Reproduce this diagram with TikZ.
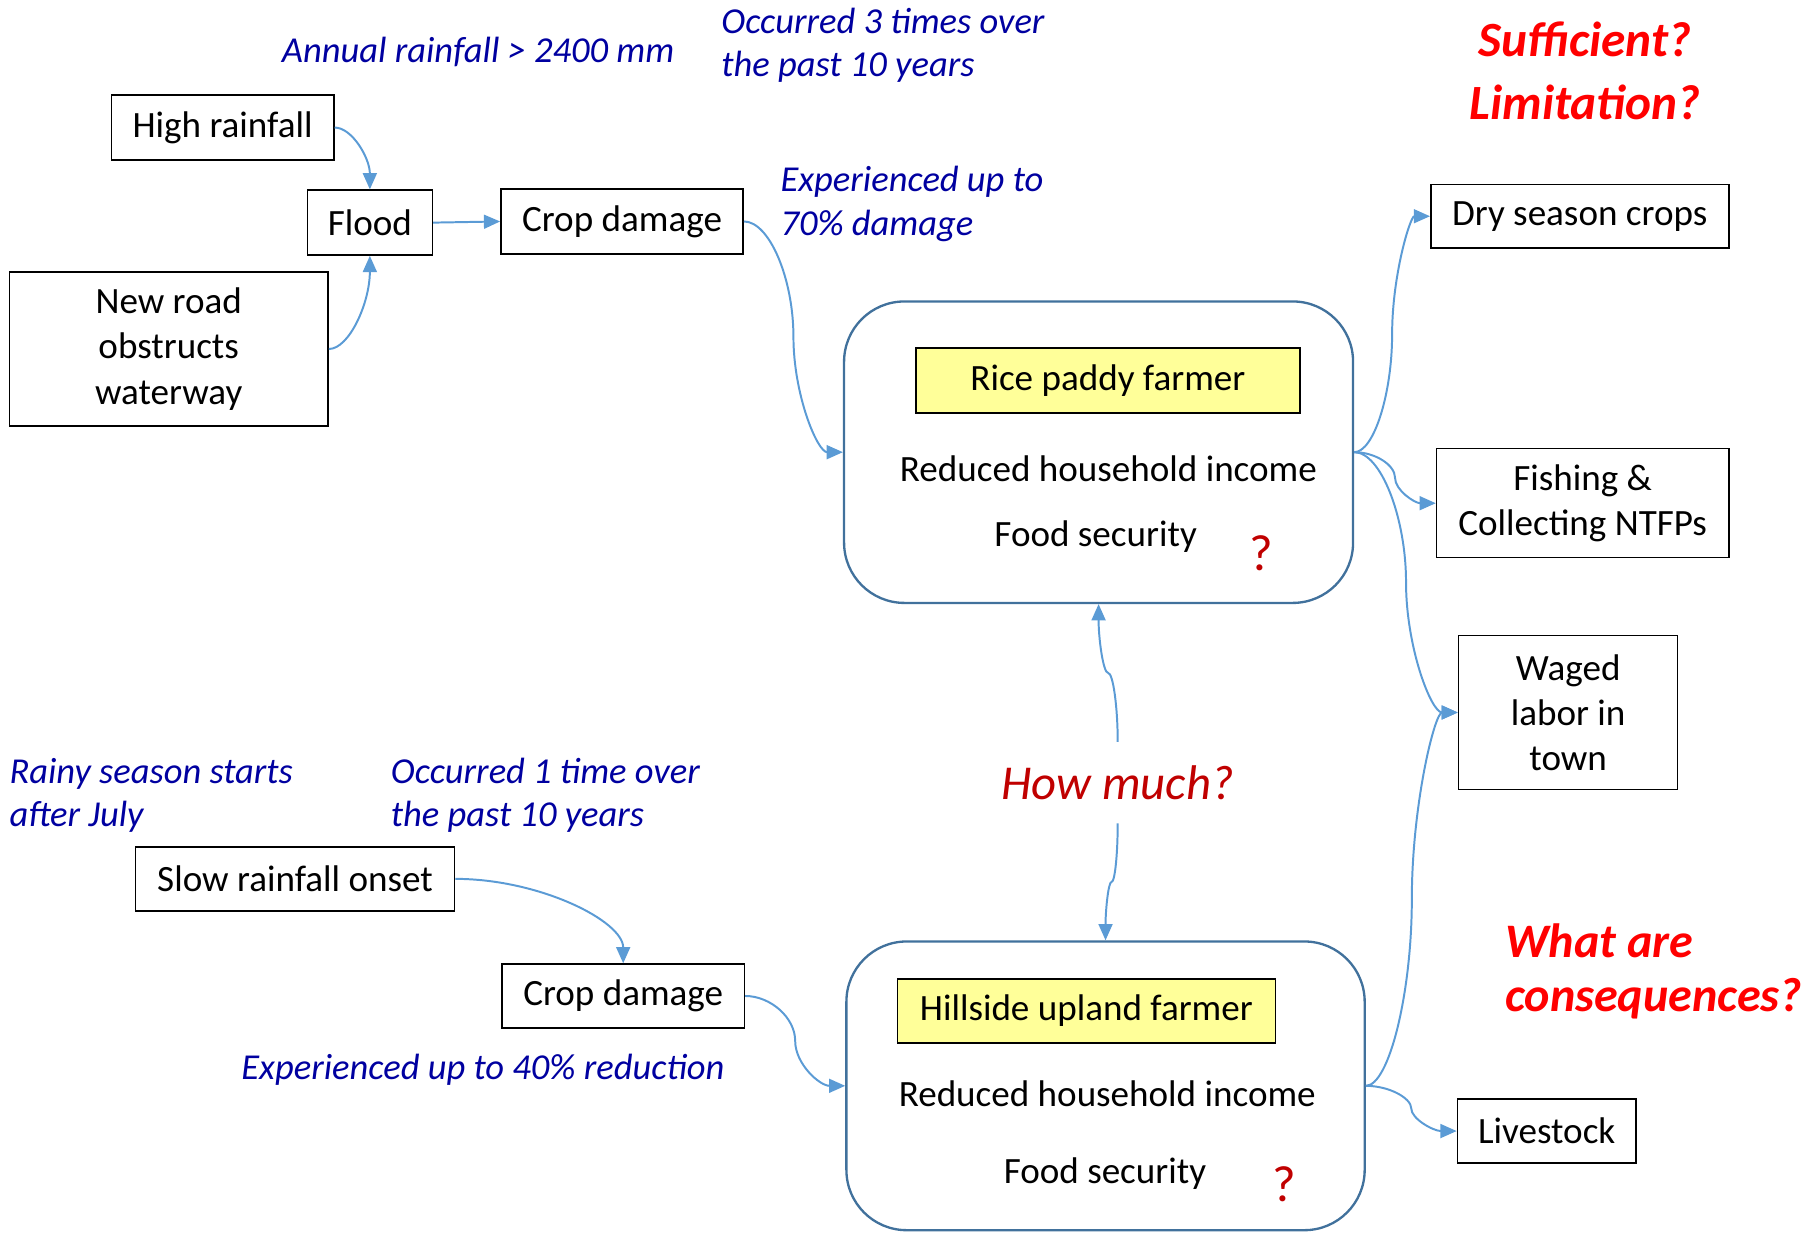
\documentclass[tikz,border=0pt]{standalone}
\usepackage{fontspec}
\setmainfont{Carlito}
\usetikzlibrary{arrows.meta,calc}
\definecolor{connc}{HTML}{5B9BD5}
\definecolor{framec}{HTML}{41719C}
\definecolor{notec}{HTML}{0000A0}
\definecolor{dredc}{HTML}{C00000}
\definecolor{bredc}{HTML}{FF0000}
\definecolor{ylwc}{HTML}{FFFF99}
\newcommand\fsbox{\fontsize{32}{39}\selectfont}
\newcommand\fsnote{\fontsize{31.5}{37.5}\selectfont\itshape}
\begin{document}
\begin{tikzpicture}[x=1pt,y=-1pt,
  box/.style={draw=black,line width=1.3pt,inner sep=0pt,align=center,font=\fsbox},
  ybox/.style={box,fill=ylwc},
  bigbox/.style={draw=framec,line width=2pt,rounded corners=52pt,inner sep=0pt},
  txt/.style={inner sep=0pt,font=\fsbox},
  note/.style={inner sep=0pt,align=left,anchor=west,text=notec,font=\fsnote},
  ask/.style={inner sep=0pt,text=bredc,font=\fontsize{42.5}{54}\selectfont\bfseries\itshape},
  qm/.style={inner sep=0pt,text=dredc,font=\fontsize{44}{48}\selectfont},
  conn/.style={draw=connc,line width=1.7pt,-{Triangle[length=14pt,width=12pt]}}
]
\useasboundingbox (0,0) rectangle (1568,1063);

% top-left chain
\node[box,minimum width=192pt,minimum height=56pt] (hr) at (192,110) {High rainfall};
\node[box,minimum width=108pt,minimum height=56pt] (flood) at (319,192) {Flood};
\node[box,minimum width=275pt,minimum height=133pt] (road) at (145.5,301) {New road\\obstructs\\waterway};
\node[box,minimum width=209pt,minimum height=56pt] (cd1) at (536.5,191) {Crop damage};

% notes top
\node[note] (n1) at (243,45) {Annual rainfall > 2400 mm};
\node[note] (n2) at (622,39) {Occurred 3 times over\\the past 10 years};
\node[note] (n3) at (673,176) {Experienced up to\\70\% damage};

% rice paddy farmer
\node[bigbox,minimum width=439pt,minimum height=260pt] (rice) at (947.5,390) {};
\node[ybox,minimum width=331pt,minimum height=56pt] (ry) at (955.5,328) {Rice paddy farmer};
\node[txt] (ri) at (956,404) {Reduced household income};
\node[txt] (rf) at (945,463) {Food security};
\node[qm] (rq) at (1088,477) {?};

% right boxes
\node[box,minimum width=257pt,minimum height=55pt] (dry) at (1362.5,186.5) {Dry season crops};
\node[box,minimum width=252pt,minimum height=94pt] (fish) at (1365,434) {Fishing \&\\Collecting NTFPs};
\node[box,minimum width=189pt,minimum height=133pt] (waged) at (1352.5,614.5) {Waged\\labor in\\town};
\node[box,minimum width=154pt,minimum height=55pt] (live) at (1334,975.5) {Livestock};

% red questions
\node[ask,align=center] (suf) at (1367,61) {Sufficient?\\Limitation?};
\node[ask,align=left,anchor=west,font=\fontsize{41.5}{47}\selectfont\bfseries\itshape] (wac) at (1298,838) {What are\\consequences?};
\node[inner sep=0pt,minimum height=70pt,text=dredc,font=\fontsize{42}{48}\selectfont\itshape] (hm) at (964,675) {How much?};

% bottom-left chain
\node[note] (n4) at (8,686) {Rainy season starts\\after July};
\node[note] (n5) at (337,686) {Occurred 1 time over\\the past 10 years};
\node[box,minimum width=275pt,minimum height=55pt] (slow) at (254.5,758) {Slow rainfall onset};
\node[box,minimum width=209pt,minimum height=55pt] (cd2) at (537.5,859) {Crop damage};
\node[note] (n6) at (208,923) {Experienced up to 40\% reduction};

% hillside upland farmer
\node[bigbox,minimum width=447pt,minimum height=249pt] (hill) at (953.5,936.5) {};
\node[ybox,minimum width=326pt,minimum height=55pt] (hy) at (937,872) {Hillside upland farmer};
\node[txt] (hi) at (955,943) {Reduced household income};
\node[txt] (hf) at (953,1012) {Food security};
\node[qm] (hq) at (1108,1021) {?};

% connectors
\draw[conn] (hr.east) .. controls +(15,0) and +(0,-27) .. (flood.north);
\draw[conn] (road.east) .. controls +(17.5,0) and +(0,40.5) .. (flood.south);
\draw[conn] (flood.east) -- (cd1.west);
\draw[conn] (cd1.east) .. controls +(22,0) and +(0,-50) .. ($(cd1.east)!.5!(rice.west)$)
  .. controls +(0,50) and +(-22,0) .. (rice.west);
\draw[conn] (rice.east) .. controls +(17,0) and +(0,51) .. ($(rice.east)!.5!(dry.west)$)
  .. controls +(0,-51) and +(-17,0) .. (dry.west);
\draw[conn] (rice.east) .. controls +(18,0) and +(0,-11) .. ($(rice.east)!.5!(fish.west)$)
  .. controls +(0,11) and +(-18,0) .. (fish.west);
\draw[conn] (rice.east) .. controls +(23,0) and +(0,-56) .. ($(rice.east)!.5!(waged.west)$)
  .. controls +(0,56) and +(-23,0) .. (waged.west);
\draw[conn] (hill.east) .. controls +(20,0) and +(0,81) .. ($(hill.east)!.5!(waged.west)$)
  .. controls +(0,-81) and +(-20,0) .. (waged.west);
\draw[conn] (hill.east) .. controls +(20,0) and +(0,-9) .. ($(hill.east)!.5!(live.west)$)
  .. controls +(0,9) and +(-20,0) .. (live.west);
\draw[conn] (slow.east) .. controls +(72.5,0) and +(0,-36.5) .. (cd2.north);
\draw[conn] (cd2.east) .. controls +(22,0) and +(0,-20) .. ($(cd2.east)!.5!(hill.west)$)
  .. controls +(0,20) and +(-22,0) .. (hill.west);
\draw[conn] (hm.north) .. controls +(0,-30) and +(4.25,0) .. ($(hm.north)!.5!(rice.south)$)
  .. controls +(-4.25,0) and +(0,30) .. (rice.south);
\draw[conn] (hm.south) .. controls +(0,25.5) and +(2.9,0) .. ($(hm.south)!.5!(hill.north)$)
  .. controls +(-2.9,0) and +(0,-25.5) .. (hill.north);
\end{tikzpicture}
\end{document}
